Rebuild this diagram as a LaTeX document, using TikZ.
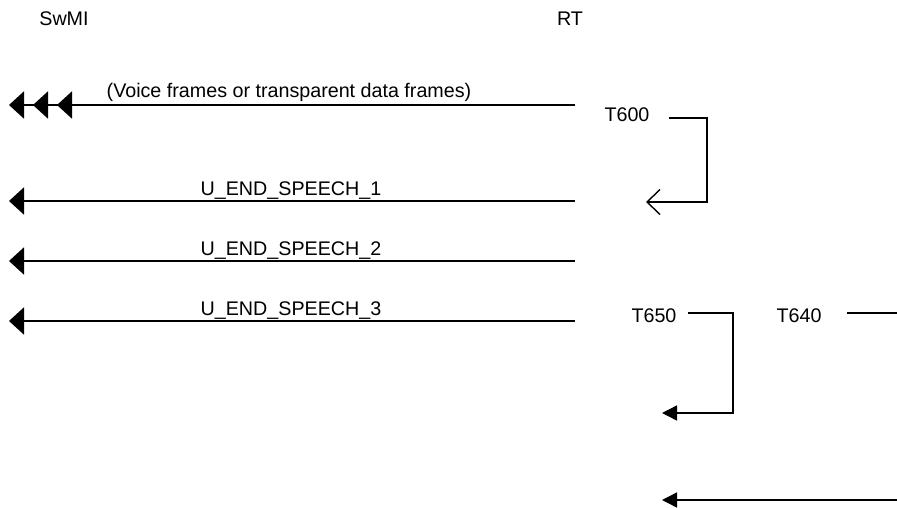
\documentclass[tikz,border=0pt]{standalone}
\usepackage{fontspec}
\setmainfont{Liberation Sans}
\usetikzlibrary{arrows.meta}
\begin{document}
\begin{tikzpicture}[x=1pt,y=-1pt,
  lbl/.style={inner sep=0pt,anchor=base,font=\fontsize{19.7}{23}\selectfont},
  msg/.style={line width=2pt,-{Triangle[length=15pt,width=27pt]}},
  timer/.style={line width=1.4pt},
  tmsg/.style={line width=1.4pt,-{Triangle[length=15pt,width=15pt]}},
  topen/.style={line width=1.4pt,-{Straight Barb[length=13pt,width=25pt,line width=1.4pt]}}]
\useasboundingbox (0,0) rectangle (897,508);

% column headings
\node[lbl] (swmi) at (64,26) {SwMI};
\node[lbl] (rt) at (570,26) {RT};

% traffic frames, sent several times
\coordinate (vs) at (575,105);
\coordinate (v1) at (9,105);
\coordinate (v2) at (33,105);
\coordinate (v3) at (57,105);
\draw[msg] (vs) -- (v1);
\draw[msg] (vs) -- (v2);
\draw[msg] (vs) -- (v3);
\node[lbl] (vtxt) at (289,98) {(Voice frames or transparent data frames)};

% end of speech messages
\coordinate (e1s) at (575,201); \coordinate (e1e) at (9,201);
\coordinate (e2s) at (575,261); \coordinate (e2e) at (9,261);
\coordinate (e3s) at (575,321); \coordinate (e3e) at (9,321);
\draw[msg] (e1s) -- (e1e);
\draw[msg] (e2s) -- (e2e);
\draw[msg] (e3s) -- (e3e);
\node[lbl] (m1) at (291,195) {U\_END\_SPEECH\_1};
\node[lbl] (m2) at (291,255) {U\_END\_SPEECH\_2};
\node[lbl] (m3) at (291,315) {U\_END\_SPEECH\_3};

% timer T600
\node[lbl] (t600) at (627,122) {T600};
\coordinate (t600a) at (669,118);
\coordinate (t600b) at (707,118);
\coordinate (t600c) at (707,202);
\coordinate (t600d) at (646,202);
\draw[topen] (t600a) -- (t600b) -- (t600c) -- (t600d);

% timer T650
\node[lbl] (t650) at (654,322) {T650};
\coordinate (t650a) at (688,313);
\coordinate (t650b) at (733,313);
\coordinate (t650c) at (733,413);
\coordinate (t650d) at (662,413);
\draw[tmsg] (t650a) -- (t650b) -- (t650c) -- (t650d);

% timer T640
\node[lbl] (t640) at (799,322) {T640};
\coordinate (t640a) at (847,313);
\coordinate (t640b) at (897,313);
\draw[timer] (t640a) -- (t640b);

\coordinate (t640c) at (897,500);
\coordinate (t640d) at (662,500);
\draw[tmsg] (t640c) -- (t640d);
\end{tikzpicture}
\end{document}
